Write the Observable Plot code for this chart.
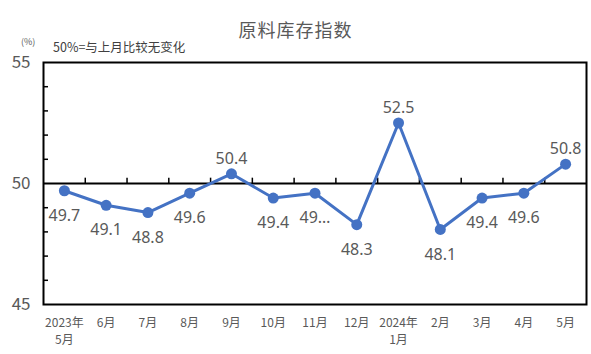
<!DOCTYPE html>
<html>
<head>
<meta charset="utf-8">
<script src="https://cdn.jsdelivr.net/npm/d3@7"></script>
<script src="https://cdn.jsdelivr.net/npm/@observablehq/plot@0.6"></script>
<style>
  html, body { margin: 0; padding: 0; background: #fff; }
  #wrap { position: relative; width: 591px; height: 354px; font-family: "Noto Sans CJK SC", sans-serif; }
  #title { position: absolute; left: 0; width: 591px; top: 16px; text-align: center; font-size: 18px; color: #595959; line-height: 26px; letter-spacing: 1px; }
  #unit { position: absolute; left: 21px; top: 36px; font-size: 9px; line-height: 12px; color: #595959; }
  #note { position: absolute; left: 53px; top: 38px; font-size: 12.5px; line-height: 18px; color: #404040; }
  svg { position: absolute; left: 0; top: 0; }
</style>
</head>
<body>
<div id="wrap">
  <div id="title">原料库存指数</div>
  <div id="unit">(%)</div>
  <div id="note">50%=与上月比较无变化</div>
</div>
<script>
const months = ["2023年\n5月", "6月", "7月", "8月", "9月", "10月", "11月", "12月", "2024年\n1月", "2月", "3月", "4月", "5月"];
const values = [49.7, 49.1, 48.8, 49.6, 50.4, 49.4, 49.6, 48.3, 52.5, 48.1, 49.4, 49.6, 50.8];
const labels = ["49.7", "49.1", "48.8", "49.6", "50.4", "49.4", "49…", "48.3", "52.5", "48.1", "49.4", "49.6", "50.8"];
const yTicks = [45, 50, 55];
const yMinor = [46, 47, 48, 49, 51, 52, 53, 54];

const data = values.map((v, i) => ({i, v, label: labels[i]}));
const boundaries = d3.range(1, months.length).map(k => k - 0.5);
const gray = "#595959";
const blue = "#4472C4";
const latin = "'Noto Sans', 'Noto Sans CJK SC', sans-serif";

const chart = Plot.plot({
  width: 591,
  height: 354,
  marginLeft: 43,
  marginRight: 5,
  marginTop: 62,
  marginBottom: 50,
  style: {fontFamily: "'Noto Sans CJK SC', sans-serif", background: "transparent"},
  x: {type: "linear", domain: [-0.5, months.length - 0.5], label: null},
  y: {domain: [45, 55], label: null},
  marks: [
    Plot.frame({stroke: "black", strokeWidth: 2}),
    Plot.tickY(yMinor, {y: d => d, stroke: "black", strokeWidth: 1.5, insetRight: 538}),
    Plot.ruleY([50], {stroke: "black", strokeWidth: 2}),
    Plot.ruleX(boundaries, {x: d => d, y1: 50, y2: 50.22, stroke: "black", strokeWidth: 1.5}),
    Plot.axisY(yTicks, {tickSize: 0, tickPadding: 13, fontSize: 17, fill: gray, stroke: null, label: null}),
    Plot.axisX(d3.range(months.length), {tickSize: 0, tickPadding: 10, fontSize: 12, lineHeight: 1.45, fill: gray, label: null, tickFormat: i => months[i]}),
    Plot.line(data, {x: "i", y: "v", stroke: blue, strokeWidth: 3}),
    Plot.dot(data, {x: "i", y: "v", r: 5.5, fill: blue, stroke: null}),
    Plot.text(data.filter(d => d.v < 50), {x: "i", y: "v", text: "label", dy: 25, fontSize: 16, fill: gray, fontFamily: latin}),
    Plot.text(data.filter(d => d.v >= 50), {x: "i", y: "v", text: "label", dy: -15, fontSize: 16, fill: gray, fontFamily: latin})
  ]
});
document.getElementById("wrap").prepend(chart);
</script>
</body>
</html>
